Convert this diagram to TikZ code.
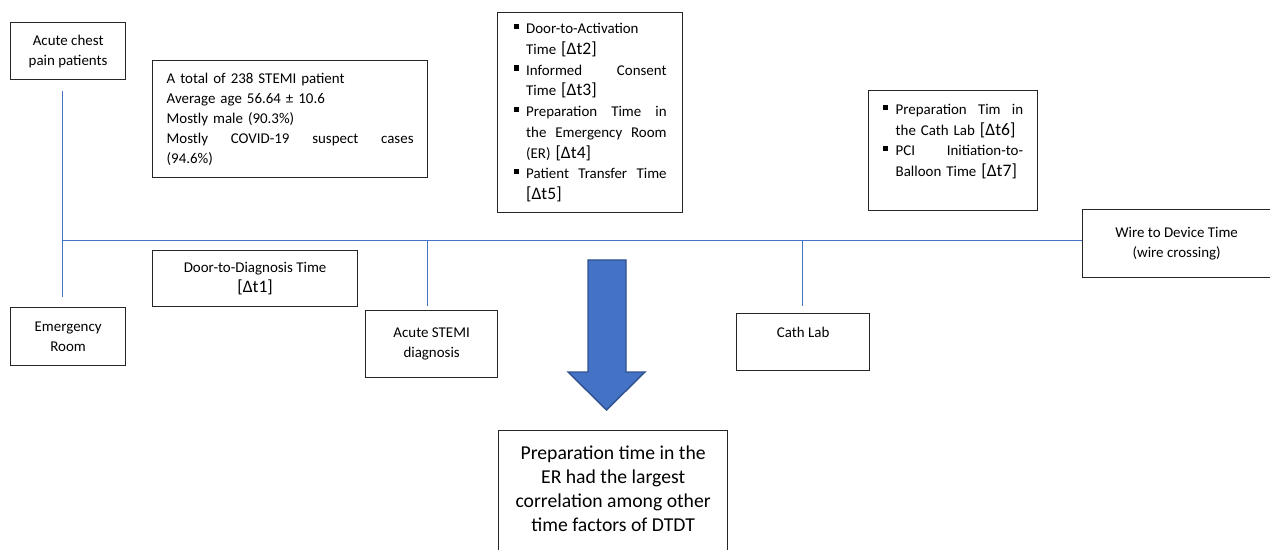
\documentclass[tikz,border=0pt]{standalone}
\usepackage{fontspec}
\setmainfont{Carlito}
\definecolor{linkblue}{HTML}{4472C4}
\definecolor{arrowedge}{HTML}{2F528F}
\newcommand{\dtime}[1]{{\fontsize{10pt}{11pt}\selectfont[Δt#1]}}
\newcommand{\sqbul}{\makebox[0.25cm][l]{\rule[2.6pt]{2.9pt}{2.9pt}}}
\newcommand{\itemind}{\hspace*{0.25cm}}

\begin{document}
\begin{tikzpicture}[x=0.02cm,y=-0.02cm,
    box/.style={draw=black!85,line width=0.75pt,inner sep=0pt,align=center,
      font=\fontsize{8.5pt}{11.4pt}\selectfont},
    link/.style={draw=linkblue,line width=0.55pt}]
    \useasboundingbox (0,0) rectangle (1270,550);

    \node[box,anchor=north west,minimum width=2.3cm,minimum height=1.14cm] (chest) at (10,22) {Acute chest\\pain patients};
    \node[box,anchor=north west,minimum width=5.5cm,minimum height=2.34cm,text width=4.94cm,align=left] (stats) at (152,60)
        {A total of 238 STEMI patient\\
         Average age 56.64 ± 10.6\\
         Mostly male (90.3\%)\\
         Mostly\hfill COVID-19\hfill suspect\hfill cases\\
         (94.6\%)};
    \node[box,anchor=north west,minimum width=3.7cm,minimum height=4cm,text width=3.06cm,align=left,
        font=\fontsize{8.5pt}{11.8pt}\selectfont] (ertimes) at (497,12)
        {\sqbul Door-to-Activation\\
         \itemind Time \dtime{2}\\
         \sqbul Informed\hfill Consent\\
         \itemind Time \dtime{3}\\
         \sqbul Preparation\hfill Time\hfill in\\
         \itemind the\hfill Emergency\hfill Room\\
         \itemind (ER) \dtime{4}\\
         \sqbul Patient\hfill Transfer\hfill Time\\
         \itemind\dtime{5}};
    \node[box,anchor=north west,minimum width=3.38cm,minimum height=2.4cm,text width=2.8cm,align=left,
        font=\fontsize{8.5pt}{11.8pt}\selectfont] (labtimes) at (868,90)
        {\sqbul Preparation\hfill Tim\hfill in\\
         \itemind the Cath Lab \dtime{6}\\
         \sqbul PCI\hfill Initiation-to-\\
         \itemind Balloon Time \dtime{7}\\
         ~};
    \node[box,anchor=north west,minimum width=3.76cm,minimum height=1.36cm] (wire) at (1082,209) {Wire to Device Time\\(wire crossing)};
    \node[box,anchor=north west,minimum width=4.1cm,minimum height=1.12cm] (dtd) at (152,250) {Door-to-Diagnosis Time\\\dtime{1}};
    \node[box,anchor=north west,minimum width=2.3cm,minimum height=1.16cm] (er) at (10,307) {Emergency\\Room};
    \node[box,anchor=north west,minimum width=2.64cm,minimum height=1.34cm] (stemi) at (365,310) {Acute STEMI\\diagnosis};
    \node[box,anchor=north west,minimum width=2.66cm,minimum height=1.14cm] (cath) at (736,313) {Cath Lab\\~};
    \node[box,anchor=north west,minimum width=4.58cm,minimum height=3.28cm,
        font=\fontsize{11.2pt}{13.7pt}\selectfont] (result) at (498,430)
        {Preparation time in the\\ER had the largest\\correlation among other\\time factors of DTDT\\~\\~};

    \coordinate (j0) at (62,240);
    \coordinate (j1) at (427,240);
    \coordinate (j2) at (802,240);
    \draw[link,shorten <=0.22cm,shorten >=0.2cm] (chest.south -| j0) -- (er.north -| j0);
    \draw[link] (j0) -- (wire.west |- j0);
    \draw[link,shorten >=0.08cm] (j1) -- (stemi.north -| j1);
    \draw[link,shorten >=0.14cm] (j2) -- (cath.north -| j2);

    \filldraw[fill=linkblue,draw=arrowedge,line width=0.8pt] (588,260) -- (626,260) -- (626,372) -- (645,372)
        -- (606.5,410) -- (568,372) -- (588,372) -- cycle;
\end{tikzpicture}
\end{document}
